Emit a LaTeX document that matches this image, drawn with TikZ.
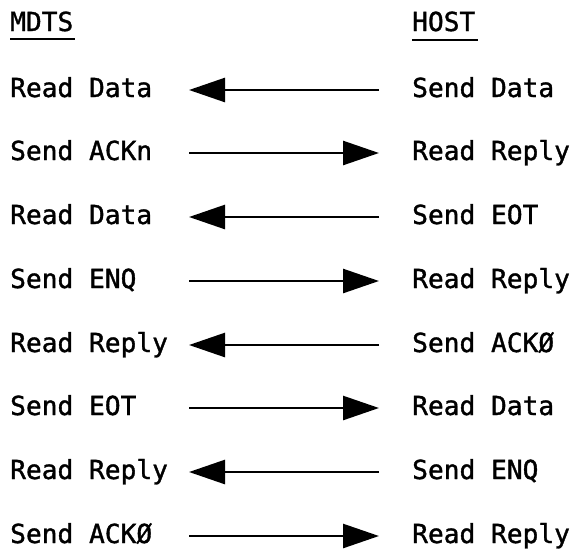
\documentclass[tikz,border=0pt]{standalone}
\usepackage{fontspec}
\newfontfamily\typefont[FakeBold=1.3]{DejaVu Sans Mono}
\usetikzlibrary{arrows.meta}

\tikzset{
  lbl/.style={inner sep=0pt, anchor=base west, font=\typefont\fontsize{26.2}{30}\selectfont},
  uline/.style={line width=2pt},
  msg/.style={line width=2.6pt, -{Triangle[length=36pt,width=24pt]}},
}

\begin{document}
\begin{tikzpicture}[x=1pt, y=-1pt]
  \useasboundingbox (0,0) rectangle (577,552);

  % column headings
  \node[lbl] (mdts) at (10,31) {MDTS};
  \node[lbl] (host) at (412,31) {HOST};
  \draw[uline] ([yshift=-8pt]mdts.base west) -- ([yshift=-8pt,xshift=2pt]mdts.base east);
  \draw[uline] ([yshift=-9pt]host.base west) -- ([yshift=-9pt,xshift=2pt]host.base east);

  % message rows: left text, right text, arrow ends
  \foreach \i/\y/\ltxt/\rtxt in {
      1/90/Read Data/Send Data,
      2/153/Send ACKn/Read Reply,
      3/217/Read Data/Send EOT,
      4/281/Send ENQ/Read Reply,
      5/345/Read Reply/Send ACKØ,
      6/408/Send EOT/Read Data,
      7/472/Read Reply/Send ENQ,
      8/536/Send ACKØ/Read Reply}{
    \node[lbl] (m\i) at (10,\y+7) {\ltxt};
    \node[lbl] (h\i) at (412,\y+7) {\rtxt};
    \coordinate (a\i) at (189,\y);
    \coordinate (b\i) at (379,\y);
  }

  % host to MDTS
  \foreach \i in {1,3,5,7} \draw[msg] (b\i) -- (a\i);
  % MDTS to host
  \foreach \i in {2,4,6,8} \draw[msg] (a\i) -- (b\i);
\end{tikzpicture}
\end{document}
